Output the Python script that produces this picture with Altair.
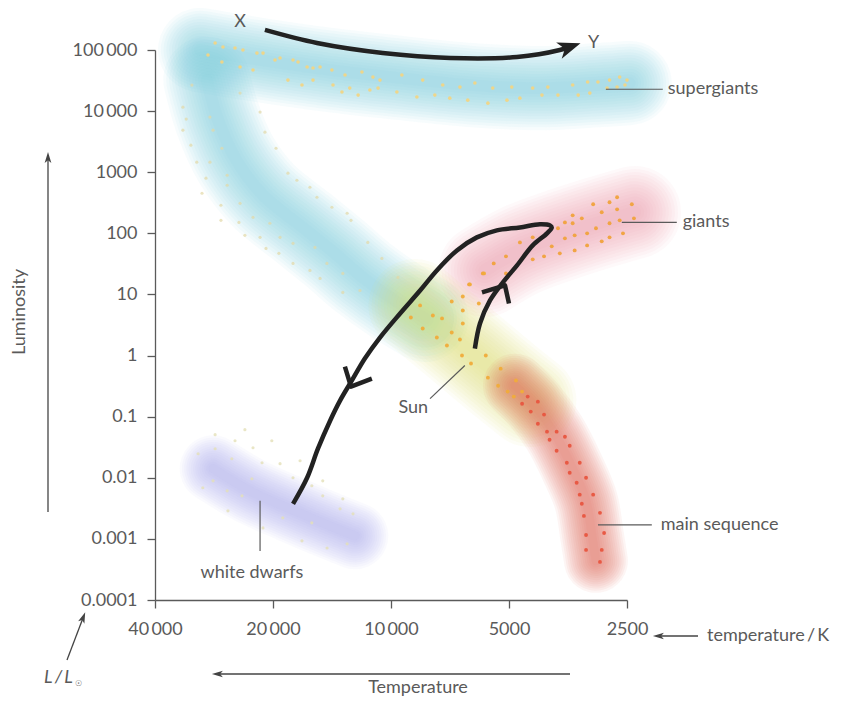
import altair as alt
import pandas as pd

# ---------------- data (temperature in K, luminosity in L/Lsun) ----------------
# supergiant stars
sg_T = [28100, 26830, 25000, 23860, 21980, 21210, 29300, 27000, 24270, 22490, 19770, 19190,
        17780, 17260, 16370, 15810, 15170, 14150, 13100, 11860, 11120, 10670, 9380, 8300,
        7380, 6670, 6110, 5500, 4920, 4350, 3980, 3440, 3150, 2965, 2770, 2610, 2500,
        18320, 16870, 15810, 14060, 12740, 13340, 12130, 11320, 10790, 9660, 8590, 7730,
        7080, 6370, 5660, 5060, 4690, 4120, 3750, 3330, 3110, 2810, 2650, 2530]
sg_L = [130000, 112000, 108000, 100000, 89000, 89000, 83000, 63500, 52600, 47000, 68500, 74000,
        68500, 63500, 52600, 50700, 52600, 47000, 38900, 43600, 36000, 32200, 38900, 32200,
        26700, 24700, 28800, 23800, 24700, 23800, 24700, 26700, 29900, 29900, 32200, 36000, 32200,
        32200, 26700, 32200, 26700, 23800, 20500, 18300, 22100, 23800, 20500, 17000, 18300,
        16300, 15100, 13500, 15100, 16300, 18300, 18300, 18300, 19700, 23800, 24700, 26700]

# faint stars along the blue giant band
bg_T = [32200, 33950, 33300, 33950, 32400, 31300, 29650, 30350, 27150, 27150, 24430, 23590,
        21580, 20840, 19320, 17780, 16100, 15170, 13270,
        24270, 21580, 20970, 19650, 18320, 17380, 16100, 15450, 14150, 12940, 12650, 11460,
        10550, 9600,
        28970, 28440, 27000, 28970, 26180, 26180, 24270, 22490, 20370, 19190, 17780, 15630,
        14570, 13270, 12000]
bg_L = [26700, 11600, 7400, 4880, 2770, 1460, 800, 453, 288, 163, 151, 92.7,
        85.9, 56.7, 47, 32.2, 24.7, 18.3, 10.8,
        19700, 9640, 4530, 2470, 964, 740, 568, 389, 267, 213, 163, 71,
        38.9, 19,
        7980, 4880, 2470, 1460, 893, 612, 310, 183, 146, 85.9, 68.5, 58.9,
        32.2, 22.1, 11.6]

# upper main sequence (orange / yellow)
ms1_T = [8430, 8900, 7820, 7410, 8300, 7640, 7000, 6670, 7200, 6560, 6560, 7000, 6560,
         6290, 5970, 5790, 6590, 6250, 5730, 5250, 5660, 5330, 5040, 4800, 4860, 4630]
ms1_L = [6.61, 4.2, 4.53, 4.05, 2.77, 1.97, 2.38, 1.83, 1.46, 3.35, 5.47, 7.68, 9.27,
         14.6, 7.11, 22.1, 1.0, 0.74, 1.0, 0.61, 0.435, 0.32, 0.257, 0.39, 0.213, 0.257]

# lower main sequence (red)
ms2_T = [4480, 4220, 4630, 4400, 4070, 4220, 4000, 3780, 3940, 3600, 3500, 3780, 3560, 3300,
         3500, 3180, 3360, 3300, 3050, 3260, 3220, 2930, 3180, 2860, 3180, 2900, 2930]
ms2_L = [0.213, 0.176, 0.163, 0.121, 0.108, 0.0767, 0.0568, 0.0568, 0.042, 0.047, 0.0335,
         0.0277, 0.0176, 0.0176, 0.0121, 0.01, 0.0083, 0.0053, 0.0053, 0.00375, 0.00238,
         0.00267, 0.00116, 0.00125, 0.00066, 0.00066, 0.00042]

# giants
gi_T = [2650, 3050, 2770, 2430, 3440, 3260, 2900, 2650, 3600, 3440, 2610, 2400, 2770, 3750,
        3160, 3000, 3400, 3600, 2560, 2770, 2900, 3160, 3400, 3710, 4070, 4350, 3890, 4350,
        4690, 5090, 5470, 5090, 5830, 6320]
gi_L = [389, 299, 322, 299, 197, 176, 221, 247, 151, 146, 163, 176, 146, 121,
        100, 121, 92.7, 82.8, 100, 85.9, 74, 63.5, 52.6, 47, 42, 85.9, 61.2, 37.5,
        71.1, 42, 32.2, 22.1, 22.1, 14.6]

# faint white-dwarf region stars
wd_T = [28100, 23590, 25000, 22490, 20140, 31050, 28100, 25470, 21330, 19190, 17060, 28440,
        30200, 26180, 22640, 23990, 17780, 14930, 15920, 14930, 13270, 26060, 21210, 18880,
        15920, 13490, 12500, 16870, 14560, 12940]
wd_L = [0.0507, 0.0612, 0.0404, 0.031, 0.0404, 0.0247, 0.0299, 0.0205, 0.0176, 0.017, 0.019,
        0.0089, 0.00686, 0.00612, 0.00964, 0.00507, 0.01, 0.0089, 0.0074, 0.00507, 0.00453,
        0.00288, 0.00151, 0.00221, 0.00183, 0.0031, 0.00257, 0.00093, 0.00071, 0.00083]

# coloured regions (centre lines)
band_sg_T = [30700, 21580, 14300, 9480, 6290, 4170, 2930, 2460]
band_sg_L = [100000, 68500, 47000, 34800, 26700, 23800, 26700, 28800]
band_bg_T = [29500, 27600, 24800, 21200, 16790, 13900, 11800, 9770, 8190]
band_bg_L = [32200, 7110, 1570, 420, 125, 47, 19, 7.98, 4.05]
band_yel_T = [8690, 7290, 6110, 5120, 4420]
band_yel_L = [6.61, 2.57, 1.0, 0.389, 0.183]
band_red_T = [4830, 4300, 3820, 3440, 3180, 3070, 3000]
band_red_L = [0.322, 0.151, 0.0526, 0.0141, 0.0042, 0.00112, 0.000436]
band_gi_T = [5760, 4690, 3710, 2930, 2390]
band_gi_L = [24.7, 52.6, 92.7, 151, 221]
band_wd_T = [28440, 22900, 18110, 13900, 12360]
band_wd_L = [0.0141, 0.00612, 0.0031, 0.00151, 0.00112]

# evolutionary track of the Sun
track_T = [6110, 5930, 5590, 5210, 4770, 4350, 4000, 3890, 3930, 4170, 4690, 5370, 6040,
           6790, 7640, 8430, 9480, 10670, 11660, 12590, 13490, 14300, 15360, 16370, 17780]
track_L = [1.30, 3.35, 7.98, 15.1, 29.9, 63.5, 100, 125, 135, 141, 125, 112, 85.9,
           52.6, 24.7, 11.6, 4.89, 1.97, 0.893, 0.389, 0.183, 0.0859, 0.0299, 0.01, 0.00375]
chev1_T = [5860, 5120, 5000]
chev1_L = [10.8, 14.1, 7.11]
chev2_T = [13110, 12650, 11190]
chev2_L = [0.66, 0.31, 0.42]

# X -> Y arrow
xy_T = [20970, 15450, 10500, 7070, 4770, 3710, 3460]
xy_L = [213000, 130000, 89300, 74000, 76800, 100000, 116000]

# labels inside the diagram
lab_text = ["X", "Y"]
lab_T = [24270, 3040]
lab_L = [288000, 130000]

right_text = ["supergiants", "giants", "main sequence"]
right_T = [1968, 1803, 2050]
right_L = [22800, 151, 0.0017]
lead_T1 = [2830, 2577, 2965]
lead_T2 = [2026, 1866, 2161]
lead_L = [22800, 151, 0.0017]

sun_T1, sun_T2 = 7950, 6480
sun_L1, sun_L2 = 0.197, 0.686
wd_lab_T, wd_lab_L = 22640, 0.000277
wd_lead_T = 21580
wd_lead_L1, wd_lead_L2 = 0.0042, 0.000635

x_ticks = [40000, 20000, 10000, 5000, 2500]
y_ticks = [0.0001, 0.001, 0.01, 0.1, 1, 10, 100, 1000, 10000, 100000]

# ---------------- chart ----------------
FONT = "Lato"
GREY = "#5a5a5a"
INK = "#222222"

label_expr = ("datum.value >= 10000 ? replace(format(datum.value, ','), ',', '\u2009') "
              ": toString(datum.value)")

xs = alt.Scale(type="log", domain=[2500, 40000], reverse=True, nice=False)
ys = alt.Scale(type="log", domain=[0.0001, 100000], nice=False)
xaxis = alt.Axis(values=x_ticks, labelExpr=label_expr, title=None, grid=False,
                 labelPadding=12, labelFlush=False, labelOverlap=False)
yaxis = alt.Axis(values=y_ticks, labelExpr=label_expr, title=None, grid=False,
                 labelPadding=10, labelOverlap=False)


def X(field="T"):
    return alt.X(f"{field}:Q", scale=xs, axis=xaxis)


def Y(field="L"):
    return alt.Y(f"{field}:Q", scale=ys, axis=yaxis)


def line_df(T, L):
    return pd.DataFrame({"T": T, "L": L, "i": list(range(len(T)))})


def band(T, L, color, w, n=14, op=0.058):
    df = line_df(T, L)
    out = []
    for j in range(n):
        k = 1.45 - 1.25 * j / (n - 1)
        out.append(alt.Chart(df).mark_line(color=color, strokeWidth=w * k, opacity=op,
                                           strokeCap="round", strokeJoin="round",
                                           interpolate="catmull-rom")
                   .encode(x=X(), y=Y(), order="i:Q"))
    return out


def dots(T, L, color, size, opacity):
    return alt.Chart(pd.DataFrame({"T": T, "L": L})).mark_circle(
        color=color, size=size, opacity=opacity).encode(x=X(), y=Y())


def path(T, L, width, interp="linear", color=INK):
    return alt.Chart(line_df(T, L)).mark_line(color=color, strokeWidth=width,
                                              strokeJoin="round", strokeCap="butt",
                                              interpolate=interp).encode(
        x=X(), y=Y(), order="i:Q")


layers = []
layers += band(band_bg_T, band_bg_L, "#7cc8da", 60)
layers += band(band_sg_T, band_sg_L, "#7cc8da", 58)
layers += band(band_wd_T, band_wd_L, "#aaa2e6", 46)
layers += band(band_gi_T, band_gi_L, "#f09aac", 64)
layers += band(band_yel_T, band_yel_L, "#dce373", 64, op=0.065)
layers += band(band_red_T, band_red_L, "#e86a58", 44, op=0.065)

layers.append(dots(bg_T, bg_L, "#e3d9a6", 10, 0.7))
layers.append(dots(wd_T, wd_L, "#e4e0b8", 10, 0.8))
layers.append(dots(sg_T, sg_L, "#f1d585", 13, 0.95))
layers.append(dots(gi_T, gi_L, "#f0a23c", 15, 0.95))
layers.append(dots(ms1_T, ms1_L, "#f0ac3a", 15, 0.95))
layers.append(dots(ms2_T, ms2_L, "#e8553f", 15, 0.95))

# tracks
layers.append(path(track_T, track_L, 4.5, "catmull-rom"))
layers.append(path(chev1_T, chev1_L, 4.5))
layers.append(path(chev2_T, chev2_L, 4.5))
layers.append(path(xy_T, xy_L, 4.5, "catmull-rom"))
layers.append(alt.Chart(pd.DataFrame({"T": [3500], "L": [112000]})).mark_point(
    shape="M1,0 L-1,-0.75 L-0.45,0 L-1,0.75 Z", filled=True, color=INK, opacity=1,
    size=520, angle=341).encode(x=X(), y=Y()))

# leader lines
lead_df = pd.DataFrame({"T": lead_T1 + [sun_T1, wd_lead_T],
                        "T2": lead_T2 + [sun_T2, wd_lead_T],
                        "L": lead_L + [sun_L1, wd_lead_L1],
                        "L2": lead_L + [sun_L2, wd_lead_L2]})
layers.append(alt.Chart(lead_df).mark_rule(color=GREY, strokeWidth=1.2).encode(
    x=X(), x2="T2:Q", y=Y(), y2="L2:Q"))

# texts inside
text_style = dict(font=FONT, fontSize=18, color=GREY)
layers.append(alt.Chart(pd.DataFrame({"T": lab_T, "L": lab_L, "t": lab_text})).mark_text(
    align="center", baseline="middle", **text_style).encode(x=X(), y=Y(), text="t:N"))
layers.append(alt.Chart(pd.DataFrame({"T": right_T, "L": right_L, "t": right_text})).mark_text(
    align="left", baseline="middle", **text_style).encode(x=X(), y=Y(), text="t:N"))
layers.append(alt.Chart(pd.DataFrame({"T": [sun_T1], "L": [0.14], "t": ["Sun"]})).mark_text(
    align="right", baseline="middle", dx=-2, **text_style).encode(x=X(), y=Y(), text="t:N"))
layers.append(alt.Chart(pd.DataFrame({"T": [wd_lab_T], "L": [wd_lab_L], "t": ["white dwarfs"]})).mark_text(
    align="center", baseline="middle", **text_style).encode(x=X(), y=Y(), text="t:N"))

# annotations outside the plot area
one = pd.DataFrame({"a": [0]})


def otext(t, x, y, align="center", angle=0, size=18, style="normal"):
    return alt.Chart(pd.DataFrame({"t": [t]})).mark_text(
        align=align, baseline="middle", angle=angle, font=FONT, fontSize=size,
        color=GREY, fontStyle=style).encode(
        x=alt.value(x), y=alt.value(y), text="t:N")


ARROW = "M0,-1 L0.55,0.8 L0,0.35 L-0.55,0.8 Z"


def head(x, y, angle):
    return alt.Chart(one).mark_point(shape=ARROW, filled=True, color="#444444", opacity=1,
                                     size=150, angle=angle).encode(
        x=alt.value(x), y=alt.value(y))


layers.append(otext("Luminosity", -135, 262, angle=270))
layers.append(alt.Chart(one).mark_rule(color="#444444", strokeWidth=1.3).encode(
    x=alt.value(-107), y=alt.value(106), y2=alt.value(462)))
layers.append(head(-107, 108, 0))

layers.append(otext("Temperature", 263, 638))
layers.append(alt.Chart(one).mark_rule(color="#444444", strokeWidth=1.3).encode(
    x=alt.value(60), x2=alt.value(415), y=alt.value(624)))
layers.append(head(63, 624, 270))

layers.append(otext("temperature\u2009/\u2009K", 552, 586, align="left"))
layers.append(alt.Chart(one).mark_rule(color="#444444", strokeWidth=1.3).encode(
    x=alt.value(501), x2=alt.value(543), y=alt.value(586)))
layers.append(head(504, 586, 270))

layers.append(otext("L\u2009/\u2009L", -111, 628, align="left", style="italic"))
layers.append(otext("\u2609", -80, 634, align="left", size=8))
layers.append(alt.Chart(one).mark_rule(color="#444444", strokeWidth=1.3).encode(
    x=alt.value(-88), x2=alt.value(-72), y=alt.value(610), y2=alt.value(568)))
layers.append(head(-72, 568, 21))

chart = alt.layer(*layers).properties(
    width=472, height=550,
    autosize=alt.AutoSizeParams(type="none"),
    padding={"left": 147, "top": 42, "right": 215, "bottom": 100},
    background="white",
).configure_view(stroke=None).configure_axis(
    domainColor=GREY, domainWidth=1.3, tickColor=GREY, tickWidth=1.3, tickSize=8,
    labelFont=FONT, labelFontSize=18, labelColor=GREY,
)

chart.save("out.html", embed_options={"renderer": "svg", "actions": False})
